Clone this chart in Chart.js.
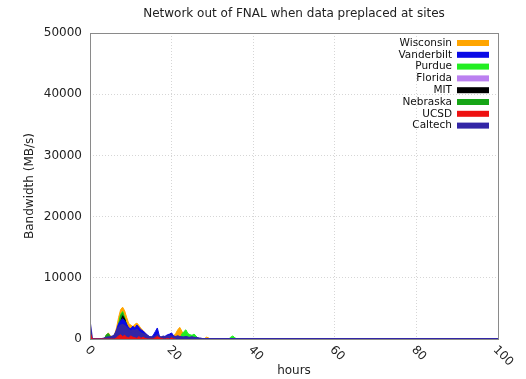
<!DOCTYPE html>
<html>
<head>
<meta charset="utf-8">
<script src="https://cdn.jsdelivr.net/npm/chart.js@4"></script>
<style>
  html, body { margin: 0; background: #fff; }
  #wrap { width: 526px; height: 379px; }
</style>
</head>
<body>
<div id="wrap"><canvas id="net-chart"></canvas></div>
<script>
// time axis (hours)
const hours = [
  0, 0.5, 1, 1.5, 2, 2.5, 3, 3.5, 4, 4.5,
  5, 5.5, 6, 6.5, 7, 7.5, 8, 8.5, 9, 9.5,
  10, 10.5, 11, 11.5, 12, 12.5, 13, 13.5, 14, 14.5,
  15, 15.5, 16, 16.5, 17, 17.5, 18, 18.5, 19, 19.5,
  20, 20.5, 21, 21.5, 22, 22.5, 23, 23.5, 24, 24.5,
  25, 25.5, 26, 26.5, 27, 27.5, 28, 28.5, 29, 29.5,
  30, 30.5, 31, 31.5, 32, 32.5, 33, 33.5, 34, 34.5,
  35, 35.5, 36, 100,
];

// bandwidth per site (MB/s)
const wisconsin = [
  0, 0, 0, 0, 0, 0, 0, 0, 600, 1000,
  500, 300, 700, 1800, 3500, 4800, 5200, 4600, 3500, 2500,
  2300, 2000, 2400, 2600, 2200, 1700, 1400, 1000, 600, 400,
  300, 300, 500, 700, 300, 0, 0, 0, 400, 500,
  600, 500, 900, 1500, 1900, 1300, 600, 500, 400, 300,
  400, 500, 300, 0, 0, 0, 0, 300, 200, 0,
  0, 0, 0, 0, 0, 0, 0, 0, 0, 0,
  0, 0, 0,
];
const vanderbilt = [
  0, 0, 0, 0, 0, 0, 0, 0, 0, 0,
  0, 0, 500, 1500, 2500, 3000, 3300, 3000, 2400, 1800,
  1700, 2100, 1800, 2300, 1900, 1500, 1300, 1000, 700, 400,
  300, 600, 1200, 1800, 500, 200, 300, 500, 700, 800,
  1000, 500, 400, 500, 400, 300, 300, 400, 300, 200,
  200, 300, 200, 200, 0, 0, 0, 0, 0, 0,
  0, 0, 0, 0, 0, 0, 0, 0, 0, 0,
  0, 0, 0,
];
const purdue = [
  0, 0, 0, 0, 0, 0, 0, 0, 0, 0,
  0, 0, 0, 0, 2500, 4000, 4500, 3500, 2200, 1500,
  1300, 800, 600, 400, 0, 0, 0, 0, 0, 0,
  0, 0, 0, 0, 0, 0, 0, 0, 0, 0,
  0, 0, 0, 0, 0, 800, 1200, 1500, 900, 700,
  600, 800, 500, 0, 0, 0, 0, 0, 0, 0,
  0, 0, 0, 0, 0, 0, 0, 0, 0, 300,
  500, 200, 0,
];
const florida = [
  2800, 0, 0, 0, 0, 0, 0, 0, 0, 0,
  0, 0, 0, 0, 0, 0, 0, 0, 0, 0,
  0, 0, 0, 0, 0, 0, 0, 0, 0, 0,
  0, 0, 0, 0, 0, 0, 0, 0, 0, 0,
  0, 0, 0, 0, 0, 0, 0, 0, 0, 0,
  0, 0, 0, 0, 0, 0, 0, 0, 0, 0,
  0, 0, 0, 0, 0, 0, 0, 0, 0, 0,
  0, 0, 0,
];
const mit = [
  0, 0, 0, 0, 0, 0, 0, 0, 0, 0,
  0, 0, 0, 0, 1500, 2800, 3800, 3300, 2200, 1400,
  1000, 600, 0, 0, 0, 0, 0, 0, 0, 0,
  0, 0, 0, 0, 0, 0, 0, 0, 0, 0,
  0, 0, 0, 0, 0, 0, 0, 0, 0, 0,
  0, 0, 0, 0, 0, 0, 0, 0, 0, 0,
  0, 0, 0, 0, 0, 0, 0, 0, 0, 0,
  0, 0, 0,
];
const nebraska = [
  0, 0, 0, 0, 0, 0, 0, 0, 700, 900,
  400, 0, 300, 800, 2000, 3800, 4300, 3200, 2000, 1200,
  900, 500, 0, 0, 0, 0, 0, 0, 0, 0,
  0, 0, 0, 0, 0, 0, 0, 0, 0, 0,
  0, 0, 0, 0, 0, 0, 0, 0, 0, 0,
  0, 0, 0, 0, 0, 0, 0, 0, 0, 0,
  0, 0, 0, 0, 0, 0, 0, 0, 0, 0,
  0, 0, 0,
];
const ucsd = [
  1200, 0, 0, 0, 0, 0, 0, 0, 0, 0,
  0, 0, 0, 200, 500, 700, 400, 600, 300, 200,
  500, 300, 200, 100, 400, 100, 300, 100, 0, 0,
  0, 0, 200, 400, 200, 100, 0, 0, 100, 0,
  200, 0, 0,
];
const caltech = [
  2500, 0, 0, 0, 0, 0, 0, 100, 200, 300,
  300, 400, 600, 1200, 1800, 2200, 2300, 2100, 1800, 1500,
  1200, 1400, 1300, 1500, 1200, 900, 800, 700, 500, 300,
  300, 200, 400, 600, 300, 300, 400, 300, 400, 500,
  400, 300, 300, 400, 300, 300, 200, 300, 200, 200,
  300, 100, 200, 100, 100, 0, 0, 0, 0, 0,
  0, 0, 0, 0, 0, 0, 0, 0, 0, 0,
  0, 0, 0, 0,
];

const yTicks = [0, 10000, 20000, 30000, 40000, 50000];
const xTicks = [0, 20, 40, 60, 80, 100];

const legendItems = [
  ["Wisconsin", "#ffa500"],
  ["Vanderbilt", "#0a0ae6"],
  ["Purdue", "#22ee22"],
  ["Florida", "#bb80f0"],
  ["MIT", "#000000"],
  ["Nebraska", "#16a516"],
  ["UCSD", "#ee1111"],
  ["Caltech", "#3326a6"],
];
const colorOf = Object.fromEntries(legendItems);

function site(label, values, width) {
  return {
    label: label,
    data: values.map((v, i) => ({ x: hours[i], y: v })),
    borderColor: colorOf[label],
    backgroundColor: colorOf[label],
    borderWidth: width || 1,
    fill: "origin",
    pointRadius: 0,
    tension: 0,
  };
}

// first dataset is painted on top
const datasets = [
  site("UCSD", ucsd),
  site("Caltech", caltech, 2),
  site("Florida", florida),
  site("Vanderbilt", vanderbilt),
  site("MIT", mit),
  site("Nebraska", nebraska),
  site("Purdue", purdue),
  site("Wisconsin", wisconsin),
];

const textColor = "#222";
const font = "DejaVu Sans";

const decorations = {
  id: "decorations",
  afterDraw(chart) {
    const ctx = chart.ctx;
    const area = chart.chartArea;
    const xs = chart.scales.x;
    ctx.save();
    // axes frame
    ctx.strokeStyle = "#8a8a8a";
    ctx.lineWidth = 1;
    ctx.strokeRect(area.left + 0.5, area.top + 0.5, area.right - area.left, area.bottom - area.top);

    // title
    ctx.fillStyle = textColor;
    ctx.font = "12px '" + font + "'";
    ctx.textAlign = "center";
    ctx.textBaseline = "middle";
    ctx.fillText("Network out of FNAL when data preplaced at sites", (area.left + area.right) / 2, 14);

    // rotated x tick labels
    ctx.textAlign = "left";
    xTicks.forEach((t) => {
      ctx.save();
      ctx.translate(xs.getPixelForValue(t) - 3, area.bottom + 9);
      ctx.rotate(Math.PI / 4);
      ctx.fillText(String(t), 0, 0);
      ctx.restore();
    });

    // legend
    ctx.font = "10.5px '" + font + "'";
    ctx.textAlign = "right";
    legendItems.forEach(([name, color], i) => {
      const y = area.top + 10 + i * 11.8;
      ctx.fillStyle = "#111";
      ctx.fillText(name, area.right - 46, y);
      ctx.fillStyle = color;
      ctx.fillRect(area.right - 41, y - 3, 32, 6);
    });
    ctx.restore();
  },
};

new Chart(document.getElementById("net-chart"), {
  type: "line",
  data: { datasets: datasets },
  options: {
    responsive: true,
    maintainAspectRatio: false,
    animation: false,
    layout: { padding: { top: 33, right: 28, left: 0, bottom: 0 } },
    plugins: {
      legend: { display: false },
      tooltip: { enabled: false },
      filler: { propagate: false },
    },
    scales: {
      x: {
        type: "linear",
        min: 0,
        max: 100,
        afterFit: (scale) => { scale.height = 40; },
        afterBuildTicks: (scale) => { scale.ticks = xTicks.map((v) => ({ value: v })); },
        ticks: { display: false },
        grid: { color: "#d6d6d6", drawTicks: false },
        border: { display: false, dash: [1, 2] },
        title: {
          display: true,
          text: "hours",
          color: textColor,
          font: { family: font, size: 12 },
          padding: { top: 0, bottom: 1 },
        },
      },
      y: {
        min: 0,
        max: 50000,
        afterFit: (scale) => { scale.width = 90; },
        afterBuildTicks: (scale) => { scale.ticks = yTicks.map((v) => ({ value: v })); },
        ticks: {
          color: textColor,
          padding: 8,
          font: { family: font, size: 12 },
          callback: (v) => String(v),
        },
        grid: { color: "#d6d6d6", drawTicks: false },
        border: { display: false, dash: [1, 2] },
        title: {
          display: true,
          text: "Bandwidth (MB/s)",
          color: textColor,
          font: { family: font, size: 12 },
          padding: { top: 23, bottom: 0 },
        },
      },
    },
  },
  plugins: [decorations],
});
</script>
</body>
</html>
